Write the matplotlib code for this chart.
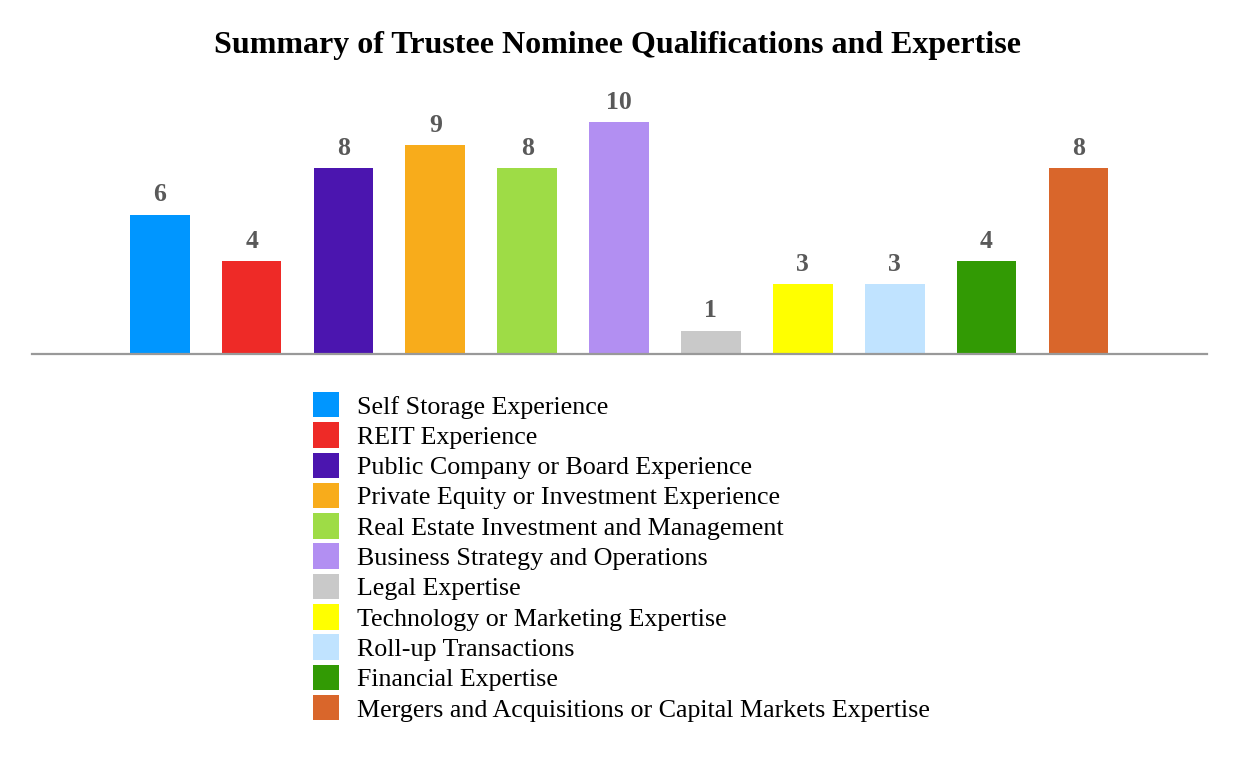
import matplotlib
matplotlib.use('Agg')
import matplotlib.pyplot as plt
from matplotlib.patches import Patch

categories = [
    'Self Storage Experience',
    'REIT Experience',
    'Public Company or Board Experience',
    'Private Equity or Investment Experience',
    'Real Estate Investment and Management',
    'Business Strategy and Operations',
    'Legal Expertise',
    'Technology or Marketing Expertise',
    'Roll-up Transactions',
    'Financial Expertise',
    'Mergers and Acquisitions or Capital Markets Expertise',
]
counts = [6, 4, 8, 9, 8, 10, 1, 3, 3, 4, 8]
colors = ['#0096FF', '#EE2A27', '#4B15AF', '#F8AC1B', '#9EDC46', '#B28FF2',
          '#C9C9C9', '#FFFF00', '#C0E3FF', '#329A04', '#D9662B']

plt.rcParams['font.family'] = ['Liberation Serif', 'DejaVu Serif']

fig = plt.figure(figsize=(12.36, 7.6), dpi=100)
# axes: baseline at y=354px, x from 32 to 1207px
ax = fig.add_axes([32 / 1236, 1 - 354 / 760, 1175 / 1236, 264 / 760])

x = list(range(len(counts)))
bars = ax.bar(x, counts, width=0.65, color=colors)
for xi, v in zip(x, counts):
    ax.annotate(str(v), xy=(xi, v), xytext=(0, 6), textcoords='offset points',
                ha='center', va='bottom', fontsize=18.5, fontweight='bold',
                color='#595959')

ax.set_xlim(-1.39, 11.40)
ax.set_ylim(0, 264 / 23.2)
ax.set_xticks([])
ax.set_yticks([])
for side in ['top', 'right', 'left']:
    ax.spines[side].set_visible(False)
ax.spines['bottom'].set_color('#999999')
ax.spines['bottom'].set_linewidth(1.6)

fig.text(0.5, 1 - 46 / 760, 'Summary of Trustee Nominee Qualifications and Expertise',
         ha='center', va='center', fontsize=23, fontweight='bold')

handles = [Patch(facecolor=c, edgecolor='none') for c in colors]
fig.legend(handles, categories, loc='upper left',
           bbox_to_anchor=(313 / 1236, 1 - 392 / 760),
           frameon=False, fontsize=18.7, handlelength=1.0, handleheight=1.13,
           handletextpad=0.7, labelspacing=0.145, borderpad=0, borderaxespad=0)

fig.savefig('out.png', dpi=100, facecolor='white')
